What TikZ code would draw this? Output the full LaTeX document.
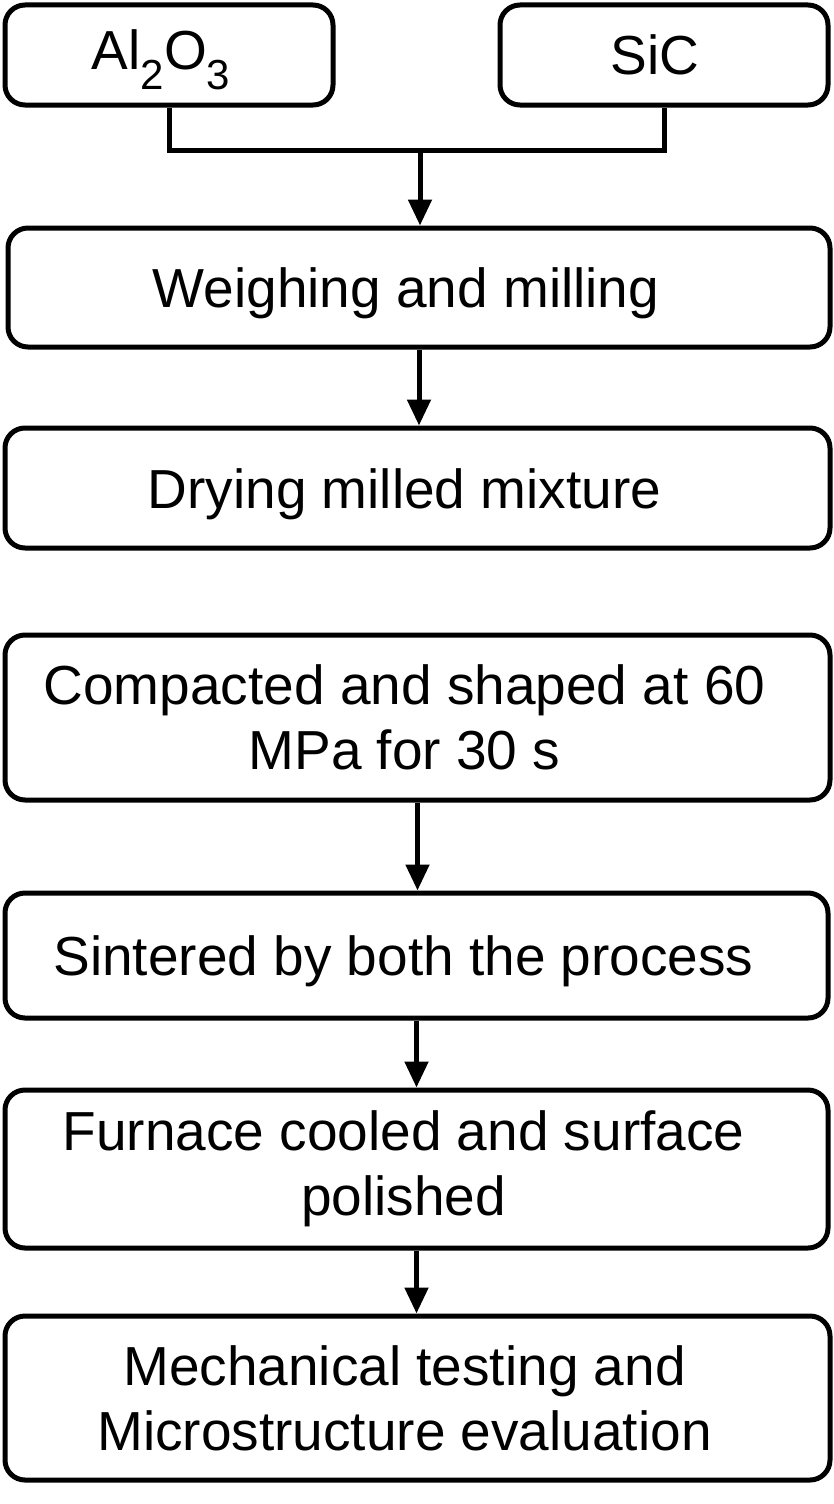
\documentclass[tikz,border=0pt]{standalone}
\usepackage{fontspec}
\setmainfont{Liberation Sans}
\usetikzlibrary{arrows.meta,calc}
\newcommand{\shl}{\hspace*{26pt}}
\begin{document}
\begin{tikzpicture}[x=1pt,y=-1pt,
  box/.style={draw=black,line width=5pt,rounded corners=20pt,rectangle,inner sep=0pt,
    align=center,font=\fontsize{55}{65}\selectfont},
  lower/.style={text height=52pt,text depth=12pt},
  conn/.style={line width=5pt},
  arr/.style={line width=5pt,-{Triangle[width=23pt,length=26pt]}}]
\useasboundingbox (0,0) rectangle (833,1504);
\node[box,minimum width=328pt,minimum height=100pt,text height=50pt,text depth=20pt] (al) at (169,55)
  {Al\raisebox{-0.36em}{\fontsize{42}{42}\selectfont 2}O\raisebox{-0.36em}{\fontsize{42}{42}\selectfont 3}\hspace*{16pt}};
\node[box,minimum width=328pt,minimum height=100pt] (sic) at (664,55) {SiC\hspace*{18pt}};
\node[box,lower,minimum width=822pt,minimum height=119pt] (weigh) at (419,287.5) {Weighing and milling\shl};
\node[box,lower,minimum width=825pt,minimum height=120pt] (dry) at (417.5,488) {Drying milled mixture\shl};
\node[box,minimum width=825pt,minimum height=165pt] (comp) at (417.5,717.5) {Compacted and shaped at 60\shl\\MPa for 30 s\shl};
\node[box,lower,minimum width=823pt,minimum height=125pt] (sint) at (416.5,955.5) {Sintered by both the process\shl};
\node[box,minimum width=823pt,minimum height=158pt] (furn) at (416.5,1169) {Furnace cooled and surface\shl\\polished\shl};
\node[box,minimum width=825pt,minimum height=164pt] (mech) at (417.5,1398) {Mechanical testing and\shl\\Microstructure evaluation\shl};
\coordinate (j) at (420,150);
\draw[conn] (al.south) |- (j) -| (sic.south);
\draw[arr] (j) -- (j |- weigh.north);
\draw[arr] (weigh.south) -- (weigh.south |- dry.north);
\draw[arr] (comp.south) -- (comp.south |- sint.north);
\draw[arr] (sint.south) -- (sint.south |- furn.north);
\draw[arr] (furn.south) -- (furn.south |- mech.north);
\end{tikzpicture}
\end{document}
